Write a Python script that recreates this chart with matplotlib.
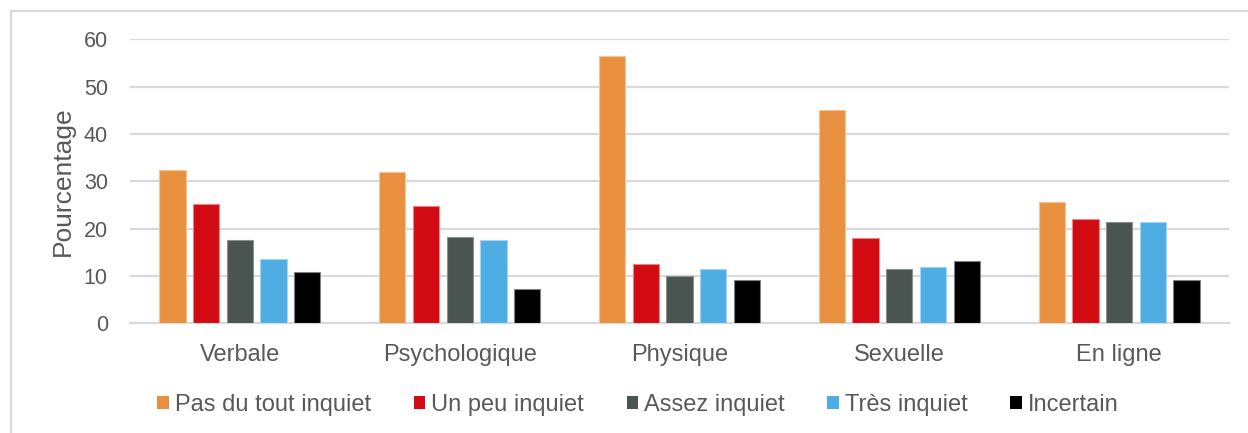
import matplotlib
matplotlib.use("Agg")
import matplotlib.pyplot as plt
import numpy as np
from matplotlib.patches import Rectangle

plt.rcParams['font.family'] = ['Liberation Sans', 'DejaVu Sans']

categories = ["Verbale", "Psychologique", "Physique", "Sexuelle", "En ligne"]
series_names = ["Pas du tout inquiet", "Un peu inquiet", "Assez inquiet", "Très inquiet", "Incertain"]
pas_du_tout = [32.3, 31.9, 56.5, 45.1, 25.7]
un_peu = [25.2, 24.8, 12.5, 18.0, 22.0]
assez = [17.6, 18.2, 9.9, 11.5, 21.3]
tres = [13.6, 17.6, 11.5, 12.0, 21.3]
incertain = [10.9, 7.2, 9.2, 13.1, 9.2]
yticks = [0, 10, 20, 30, 40, 50, 60]

series = [pas_du_tout, un_peu, assez, tres, incertain]
colors = ["#E8903F", "#D20A11", "#4A5450", "#4EADE3", "#000000"]
edgecols = ["#F3C497", "#E8848A", "#8A918E", "#A3D3F0", "#808080"]

W, H = 1248, 433
fig = plt.figure(figsize=(W / 100, H / 100), dpi=100)
ax = fig.add_axes([130 / W, 1 - 323.3 / H, (1229 - 130) / W, (323.3 - 39.3) / H])

text_col = "#595959"
x = np.arange(len(categories))
step = 0.1533
width = 0.12
for i, (vals, c, ec, name) in enumerate(zip(series, colors, edgecols, series_names)):
    ax.bar(x + (i - 2) * step, vals, width=width, color=c, edgecolor=ec,
           linewidth=0.8, label=name, zorder=3)

ax.set_xlim(-0.5, len(categories) - 0.5)
ax.set_ylim(0, 60)
ax.set_yticks(yticks)
ax.set_yticklabels([str(t) for t in yticks], fontsize=15.5, color=text_col)
ax.set_xticks(x)
ax.set_xticklabels(categories, fontsize=17, color=text_col)
ax.tick_params(axis='y', length=0, pad=16)
ax.tick_params(axis='x', length=0, pad=15)
ax.grid(axis='y', color="#D9D9D9", linewidth=1.6, zorder=0)
ax.set_axisbelow(True)
for s in ["top", "right", "left"]:
    ax.spines[s].set_visible(False)
ax.spines["bottom"].set_color("#D9D9D9")
ax.spines["bottom"].set_linewidth(1.6)
ax.set_ylabel("Pourcentage", fontsize=19, color=text_col, labelpad=6)

leg = fig.legend(loc="center", bbox_to_anchor=(638 / W, 1 - 405 / H), ncol=5,
                 frameon=False, fontsize=17, handlelength=0.5, handleheight=0.5,
                 handletextpad=0.25, columnspacing=1.8, borderaxespad=0)
for t in leg.get_texts():
    t.set_color(text_col)
for h in leg.legend_handles:
    h.set_edgecolor("none")

# outer chart border (partially visible)
fig.patches.append(Rectangle((11 / W, -0.1), 1.2, (1 - 10.5 / H) + 0.1,
                             transform=fig.transFigure, fill=False,
                             edgecolor="#D9D9D9", linewidth=1.6))

fig.savefig("out.png", dpi=100)
